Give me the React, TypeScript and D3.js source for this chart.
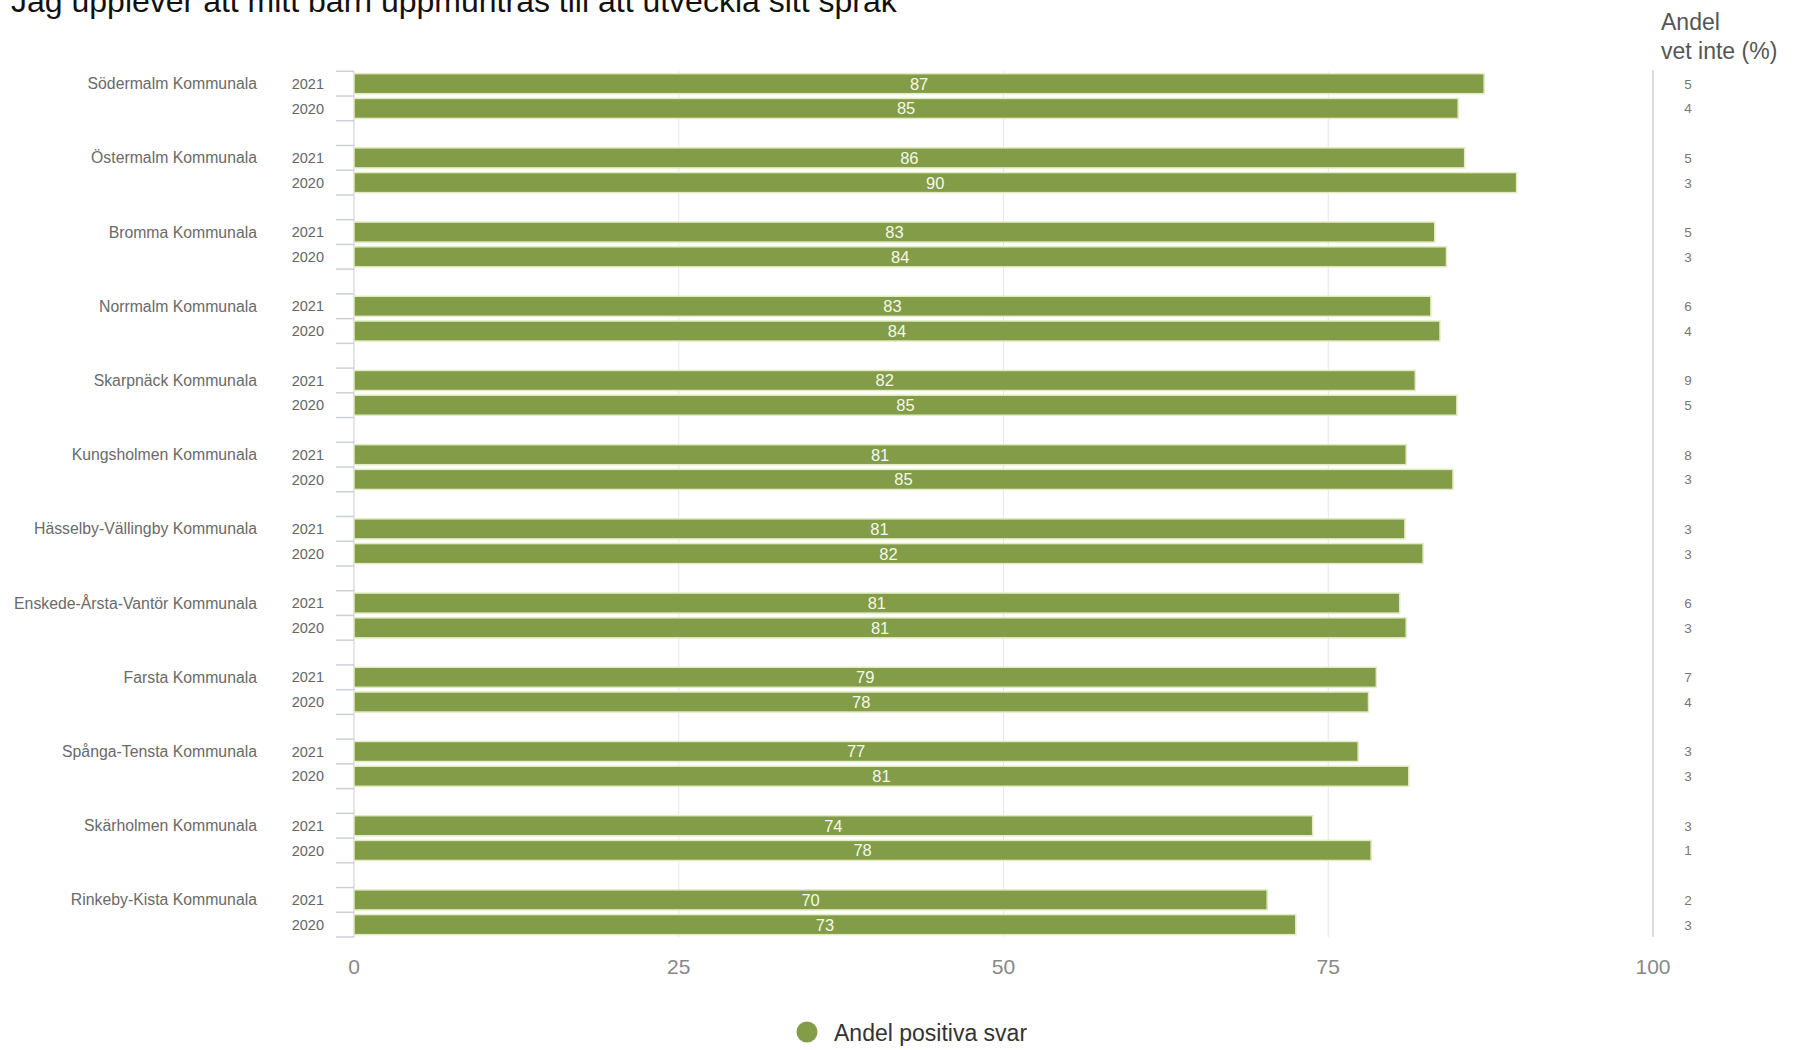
import React from "react";
import * as d3 from "d3";

const TITLE = "Jag upplever att mitt barn uppmuntras till att utveckla sitt språk";
const categories = [
  "Södermalm Kommunala",
  "Östermalm Kommunala",
  "Bromma Kommunala",
  "Norrmalm Kommunala",
  "Skarpnäck Kommunala",
  "Kungsholmen Kommunala",
  "Hässelby-Vällingby Kommunala",
  "Enskede-Årsta-Vantör Kommunala",
  "Farsta Kommunala",
  "Spånga-Tensta Kommunala",
  "Skärholmen Kommunala",
  "Rinkeby-Kista Kommunala",
];
const years = ["2021", "2020"];
const positive2021 = [87.0, 85.5, 83.2, 82.9, 81.7, 81.0, 80.9, 80.5, 78.7, 77.3, 73.8, 70.3];
const positive2020 = [85.0, 89.5, 84.1, 83.6, 84.9, 84.6, 82.3, 81.0, 78.1, 81.2, 78.3, 72.5];
const dontKnow2021 = [5, 5, 5, 6, 9, 8, 3, 6, 7, 3, 3, 2];
const dontKnow2020 = [4, 3, 3, 4, 5, 3, 3, 3, 4, 3, 1, 3];
const xTicks = [0, 25, 50, 75, 100];
const legendLabel = "Andel positiva svar";
const sideTitle = ["Andel", "vet inte (%)"];

const W = 1796;
const H = 1050;
const FONT = "'Liberation Sans', Arial, Helvetica, sans-serif";
const GREEN = "#829c48";

export default function App() {
  const x = d3.scaleLinear().domain([0, 100]).range([354, 1653]);

  const slots: string[] = [];
  categories.forEach((_, i) => {
    slots.push(`${i}-2021`, `${i}-2020`);
    if (i < categories.length - 1) slots.push(`${i}-gap`);
  });
  const y = d3.scaleBand<string>().domain(slots).range([71.3, 937]).padding(0);
  const step = y.step();
  const barH = step * 0.81;

  const rows: { key: string; cat: number; year: string; v: number; dk: number }[] = [];
  categories.forEach((_, i) => {
    rows.push({ key: `${i}-2021`, cat: i, year: years[0], v: positive2021[i], dk: dontKnow2021[i] });
    rows.push({ key: `${i}-2020`, cat: i, year: years[1], v: positive2020[i], dk: dontKnow2020[i] });
  });

  const boundaries = [...slots.map((s) => y(s)!), y.range()[1]];
  const [y0, y1] = y.range();

  return (
    <svg width={W} height={H} style={{ display: "block", position: "absolute", left: 0, top: 0 }} fontFamily={FONT}>
      <rect x={0} y={0} width={W} height={H} fill="#ffffff" />
      <text x={11} y={12} fontSize={32} fill="#111">{TITLE}</text>
      <text x={1661} y={30} fontSize={23} fill="#555">{sideTitle[0]}</text>
      <text x={1661} y={59} fontSize={23} fill="#555">{sideTitle[1]}</text>

      {/* gridlines */}
      {xTicks.filter((t) => t > 0 && t < 100).map((t) => (
        <line key={t} x1={x(t)} x2={x(t)} y1={y0} y2={y1} stroke="#e6e6e6" strokeWidth={1} />
      ))}
      <line x1={x(100)} x2={x(100)} y1={70} y2={y1} stroke="#d0d0d0" strokeWidth={1.5} />

      {/* y axis */}
      <line x1={x(0)} x2={x(0)} y1={y0} y2={y1} stroke="#dcdde2" strokeWidth={1.5} />
      {boundaries.map((b, i) => (
        <line key={i} x1={336} x2={x(0)} y1={b} y2={b} stroke="#ccd0d8" strokeWidth={1.5} />
      ))}

      {/* bars */}
      {rows.map((r) => {
        const cy = y(r.key)! + step / 2;
        return (
          <g key={r.key}>
            <rect x={x(0)} y={cy - barH / 2} width={x(r.v) - x(0)} height={barH} fill={GREEN} stroke="#e2ebc2" strokeWidth={1.5} />
            <text x={(x(0) + x(r.v)) / 2} y={cy + 6} fontSize={16.5} fill="#f6f9ea" textAnchor="middle">{Math.round(r.v)}</text>
            <text x={324} y={cy + 5.2} fontSize={14.5} fill="#666" textAnchor="end">{r.year}</text>
            <text x={1688} y={cy + 5} fontSize={13.5} fill="#777" textAnchor="middle">{r.dk}</text>
          </g>
        );
      })}

      {/* category labels */}
      {categories.map((c, i) => {
        const cy = y(`${i}-2021`)! + step / 2;
        return (
          <text key={c} x={257} y={cy + 5.5} fontSize={15.8} fill="#6a6a6a" textAnchor="end">{c}</text>
        );
      })}

      {/* x tick labels */}
      {xTicks.map((t) => (
        <text key={t} x={x(t)} y={974} fontSize={21} fill="#888" textAnchor="middle">{t}</text>
      ))}

      {/* legend */}
      <circle cx={807} cy={1032} r={10.5} fill={GREEN} />
      <text x={834} y={1041} fontSize={23} fill="#333">{legendLabel}</text>
    </svg>
  );
}
